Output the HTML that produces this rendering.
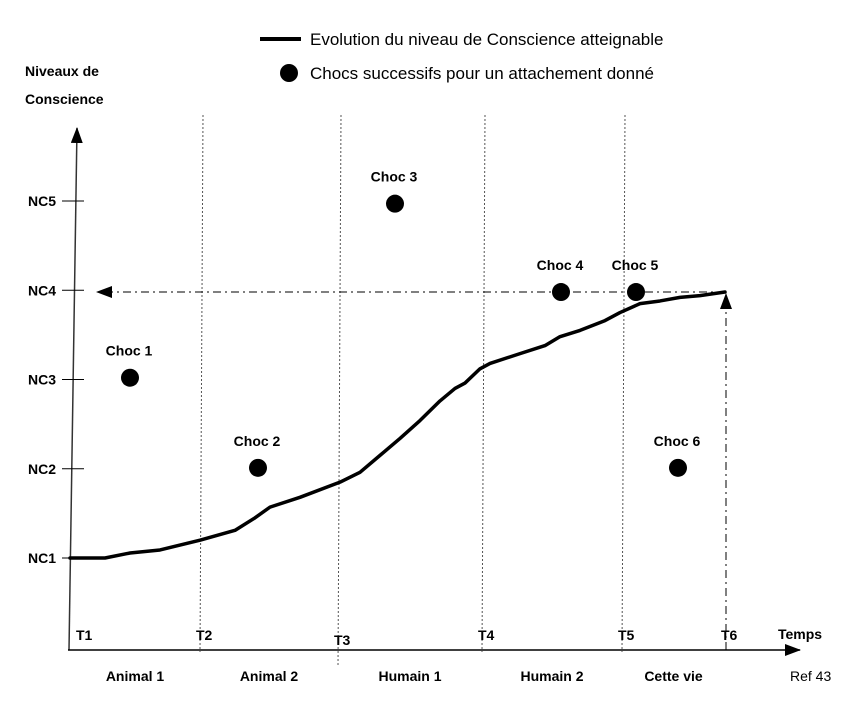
<!DOCTYPE html>
<html><head><meta charset="utf-8"><style>
body{margin:0;background:#fff}
svg{display:block;font-family:"Liberation Sans",Arial,sans-serif}
.b{font-weight:bold;font-size:14px}
</style></head><body>
<svg id="c" width="850" height="704" viewBox="0 0 850 704">
<defs>
<marker id="ah2" markerWidth="16" markerHeight="12" refX="15" refY="6" orient="auto" markerUnits="userSpaceOnUse"><path d="M0,0 L16,6 L0,12 Z" fill="#000"/></marker>
</defs>
<g>
<line x1="260" y1="39" x2="301" y2="39" stroke="#000" stroke-width="4"/>
<text x="310" y="45" font-size="17">Evolution du niveau de Conscience atteignable</text>
<circle cx="289" cy="73" r="9" fill="#000"/>
<text x="310" y="79" font-size="17">Chocs successifs pour un attachement donné</text>
</g>
<text class="b" x="25" y="76">Niveaux de</text>
<text class="b" x="25" y="104">Conscience</text>
<line x1="69" y1="650" x2="77" y2="128" stroke="#333" stroke-width="1.5" marker-end="url(#ah2)"/>
<line x1="68" y1="650" x2="800" y2="650" stroke="#000" stroke-width="1.5" marker-end="url(#ah2)"/>
<text class="b" x="778" y="639">Temps</text>
<text x="790" y="681" font-size="14">Ref 43</text>
<g id="g"></g>
</svg>
<script>
const levelLabels=["NC1","NC2","NC3","NC4","NC5"];
const levelValues=[1,2,3,4,5];
const timeLabels=["T1","T2","T3","T4","T5","T6"];
const timeValues=[0,130,268,412,552,655];
const periodLabels=["Animal 1","Animal 2","Humain 1","Humain 2","Cette vie"];
const curveTimes=[0,35,60,90,130,165,185,200,230,270,290,310,330,350,370,385,395,410,420,450,475,490,510,535,550,570,590,610,630,655];
const curveLevels=[1.0,1.0,1.056,1.09,1.2,1.31,1.45,1.57,1.68,1.85,1.96,2.15,2.34,2.54,2.76,2.9,2.96,3.12,3.18,3.29,3.38,3.48,3.55,3.66,3.75,3.85,3.88,3.92,3.94,3.98];
const shockLabels=["Choc 1","Choc 2","Choc 3","Choc 4","Choc 5","Choc 6"];
const shockTimes=[60,188,325,491,566,608];
const shockLevels=[3.02,2.01,4.97,3.98,3.98,2.01];
const targetLevel=3.98;

const AXIS_Y=650;
const X=t=>70+t;
const Y=l=>558-(l-1)*89.25;
const NS="http://www.w3.org/2000/svg";
const g=document.getElementById('g');
function mk(tag,attrs,txt){const e=document.createElementNS(NS,tag);for(const k in attrs)e.setAttribute(k,attrs[k]);if(txt!=null)e.textContent=txt;g.appendChild(e);return e;}

levelValues.forEach((v,i)=>{
  const t=mk('line',{x1:62,x2:84,y1:Y(v),y2:Y(v),stroke:'#000','stroke-width':1});
  
  
  const l=mk('text',{x:56,y:Y(v)+5,'text-anchor':'end','class':'b'},levelLabels[i]);
  
  
});
timeValues.forEach((v,i)=>{
  if(i>0&&i<timeValues.length-1){
    const ln=mk('line',{x1:X(v)+3,x2:X(v),y1:115,y2:i==2?667:652,stroke:'#555','stroke-width':1,'stroke-dasharray':'2,2'});
    
    
  }
  const l=mk('text',{x:X(v)+(i==0?6:-4),y:i==2?645:640,'class':'b'},timeLabels[i]);
  
  
});
periodLabels.forEach((p,i)=>{
  const cx=(X(timeValues[i])+X(timeValues[i+1]))/2;
  const l=mk('text',{x:cx,y:681,'text-anchor':'middle','class':'b'},p);
  
  
});
const tEnd=timeValues[timeValues.length-1];
const h=mk('line',{x1:X(tEnd),y1:Y(targetLevel),x2:97,y2:Y(targetLevel),stroke:'#000','stroke-width':1,'stroke-dasharray':'8,4,2,4','marker-end':'url(#ah2)'});


const v=mk('line',{x1:X(tEnd)+1,y1:AXIS_Y,x2:X(tEnd)+1,y2:Y(targetLevel)+2,stroke:'#000','stroke-width':1,'stroke-dasharray':'8,4,2,4','marker-end':'url(#ah2)'});


const d=curveTimes.map((t,i)=>(i?'L':'M')+X(t)+','+Y(curveLevels[i])).join(' ');
const p=mk('path',{d:d,fill:'none',stroke:'#000','stroke-width':3.5,'stroke-linejoin':'round','stroke-linecap':'round'});


shockTimes.forEach((t,i)=>{
  const c=mk('circle',{cx:X(t),cy:Y(shockLevels[i]),r:9,fill:'#000'});
  
  
  const l=mk('text',{x:X(t)-1,y:Y(shockLevels[i])-22,'text-anchor':'middle','class':'b'},shockLabels[i]);
  
  
});
</script>
</body></html>
